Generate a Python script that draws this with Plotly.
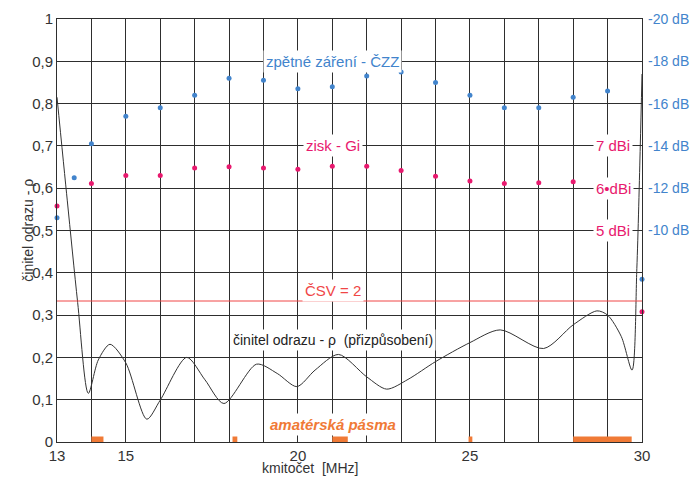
import plotly.graph_objects as go

# ---------------- data ----------------
freq_pts = [13, 13.5, 14, 15, 16, 17, 18, 19, 20, 21, 22, 23, 24, 25, 26, 27, 28, 29, 30]
czz_db = [10.6, 12.5, 14.1, 15.4, 15.8, 16.4, 17.2, 17.1, 16.7, 16.8, 17.3, 17.5, 17.0, 16.4, 15.8, 15.8, 16.3, 16.6, 7.7]

gain_freq = [13, 14, 15, 16, 17, 18, 19, 20, 21, 22, 23, 24, 25, 26, 27, 28, 29, 30]
gain_dbi = [5.58, 6.11, 6.30, 6.30, 6.48, 6.51, 6.48, 6.45, 6.52, 6.52, 6.42, 6.28, 6.17, 6.11, 6.13, 6.15, 6.0, 3.08]

rho_freq = [13, 13.3, 13.6, 13.91, 14.2, 14.54, 15.0, 15.61, 16.0, 16.77, 17.3, 17.85, 18.8, 19.4,
            19.97, 20.5, 21.18, 22.0, 22.58, 23.2, 24.0, 25.0, 25.88, 27.14, 28.0, 28.69, 29.0,
            29.4, 29.71, 29.85, 29.95, 30]
rho_val = [0.815, 0.57, 0.33, 0.115, 0.194, 0.231, 0.187, 0.054, 0.099, 0.200, 0.147, 0.091, 0.184, 0.162,
           0.131, 0.170, 0.207, 0.154, 0.125, 0.148, 0.190, 0.235, 0.265, 0.221, 0.277, 0.310, 0.300,
           0.249, 0.170, 0.41, 0.70, 0.87]

vswr_limit = 2
ham_bands = [(14.0, 14.35), (18.1, 18.24), (21.0, 21.45), (24.96, 25.07), (28.0, 29.7)]

rho_ticks = [0, 0.1, 0.2, 0.3, 0.4, 0.5, 0.6, 0.7, 0.8, 0.9, 1]
rho_ticktext = ["0", "0,1", "0,2", "0,3", "0,4", "0,5", "0,6", "0,7", "0,8", "0,9", "1"]
db_ticks = [-20, -18, -16, -14, -12, -10]
db_ticktext = ["-20 dB", "-18 dB", "-16 dB", "-14 dB", "-12 dB", "-10 dB"]
gain_labels = [7, 6, 5]
gain_labeltext = ["7 dBi", "6•dBi", "5 dBi"]
x_ticks = list(range(13, 31))
x_label_show = [13, 15, 20, 25, 30]

# ---------------- styles ----------------
FONT = "Liberation Sans, Arial, sans-serif"
BLUE = "#4284cc"
PINK = "#e8196e"
RED = "#f04646"
ORANGE = "#f07a36"
GRID = "#2e2e2e"

fig = go.Figure()

fig.add_trace(go.Scatter(x=rho_freq, y=rho_val, mode="lines", line=dict(color="#333333", width=1, shape="spline", smoothing=0.8),
                         yaxis="y", cliponaxis=False, showlegend=False, hoverinfo="skip"))

fig.add_trace(go.Scatter(x=freq_pts, y=[-v for v in czz_db], mode="markers",
                         marker=dict(color=BLUE, size=5), yaxis="y2", cliponaxis=False, showlegend=False))

fig.add_trace(go.Scatter(x=gain_freq, y=gain_dbi, mode="markers",
                         marker=dict(color=PINK, size=5), yaxis="y3", cliponaxis=False, showlegend=False))

rho_limit = (vswr_limit - 1) / (vswr_limit + 1)
fig.add_shape(type="line", xref="x", yref="y", x0=13, x1=30.1, y0=rho_limit, y1=rho_limit,
              line=dict(color=RED, width=1))

for b0, b1 in ham_bands:
    fig.add_shape(type="rect", xref="x", yref="y", x0=b0, x1=b1, y0=0, y1=0.013,
                  line=dict(width=0), fillcolor=ORANGE)

ann = []
def txt(x, y, s, color, size=14, yref="y", bg="white", **kw):
    ann.append(dict(x=x, y=y, xref="x", yref=yref, text=s, showarrow=False,
                    font=dict(family=FONT, size=size, color=color), bgcolor=bg, borderpad=2, **kw))

txt(21.02, 0.9, "zpětné záření - ČZZ", BLUE, size=15)
txt(21.02, 7.0, "zisk - Gi", PINK, size=15, yref="y3")
txt(21.02, 0.358, "ČSV = 2", RED, size=15)
txt(21.02, 0.241, "činitel odrazu - ρ  (přizpůsobení)", "#222222", size=14)
txt(21.02, 0.042, "<b><i>amatérská pásma</i></b>", ORANGE, size=15)
for g, t in zip(gain_labels, gain_labeltext):
    txt(29.16, g, t, PINK, size=15, yref="y3")

ann.append(dict(x=-0.068, y=0.5, xref="paper", yref="paper", text="činitel odrazu - ρ", textangle=-90,
                showarrow=False, font=dict(family=FONT, size=14, color="#333333")))
ann.append(dict(x=0.432, y=-0.062, xref="paper", yref="paper", text="kmitočet  [MHz]", yanchor="middle",
                showarrow=False, font=dict(family=FONT, size=14, color="#333333")))

fig.update_layout(
    width=693, height=478,
    margin=dict(l=57, r=51, t=19, b=36),
    paper_bgcolor="white", plot_bgcolor="white",
    font=dict(family=FONT, size=14, color="#333333"),
    showlegend=False,
    annotations=ann,
    xaxis=dict(range=[13, 30], tickvals=x_ticks, automargin=False,
               ticktext=[str(v) if v in x_label_show else "" for v in x_ticks],
               showgrid=True, gridcolor=GRID, gridwidth=1, showline=True, linecolor=GRID, mirror=True,
               zeroline=False, ticks="", tickfont=dict(size=15, color="#333333")),
    yaxis=dict(range=[0, 1], tickvals=rho_ticks, ticktext=rho_ticktext, showgrid=True, gridcolor=GRID,
               gridwidth=1, showline=True, linecolor=GRID, mirror=True, zeroline=False, ticks="",
               automargin=False, tickfont=dict(size=15, color="#333333")),
    yaxis2=dict(range=[0, -20], overlaying="y", side="right", tickvals=db_ticks, ticktext=db_ticktext,
                showgrid=False, zeroline=False, showline=False, ticks="", automargin=False,
                ticklabelstandoff=5, tickfont=dict(size=14, color=BLUE)),
    yaxis3=dict(range=[0, 10], overlaying="y", side="right", visible=False, showgrid=False, zeroline=False,
                automargin=False),
)

fig.write_html("out.html", config={"displayModeBar": False},
               post_script="document.body.style.margin='0';document.body.style.overflow='hidden';")
